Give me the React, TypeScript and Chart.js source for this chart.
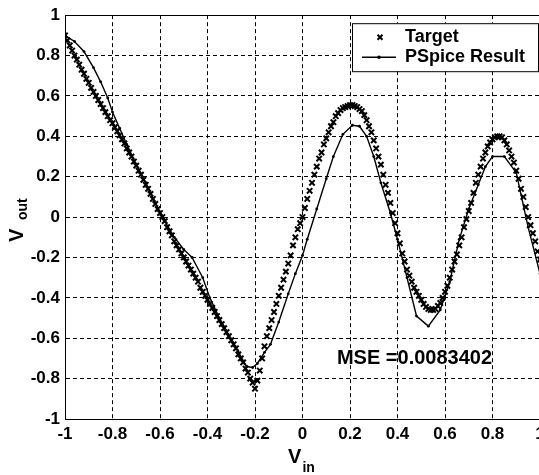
import React, { useEffect, useRef } from "react";
import { Chart, registerables } from "chart.js";

Chart.register(...registerables);

const FONT = '"Liberation Sans", Arial, Helvetica, sans-serif';

const targetX = [
  -1.0, -0.99, -0.98, -0.97, -0.96, -0.95, -0.94, -0.93, -0.92, -0.91,
  -0.9, -0.89, -0.88, -0.87, -0.86, -0.85, -0.84, -0.83, -0.82, -0.81,
  -0.8, -0.79, -0.78, -0.77, -0.76, -0.75, -0.74, -0.73, -0.72, -0.71,
  -0.7, -0.69, -0.68, -0.67, -0.66, -0.65, -0.64, -0.63, -0.62, -0.61,
  -0.6, -0.59, -0.58, -0.57, -0.56, -0.55, -0.54, -0.53, -0.52, -0.51,
  -0.5, -0.49, -0.48, -0.47, -0.46, -0.45, -0.44, -0.43, -0.42, -0.41,
  -0.4, -0.39, -0.38, -0.37, -0.36, -0.35, -0.34, -0.33, -0.32, -0.31,
  -0.3, -0.29, -0.28, -0.27, -0.26, -0.25, -0.24, -0.23, -0.22, -0.21,
  -0.2, -0.19, -0.18, -0.17, -0.16, -0.15, -0.14, -0.13, -0.12, -0.11,
  -0.1, -0.09, -0.08, -0.07, -0.06, -0.05, -0.04, -0.03, -0.02, -0.01,
  0.0, 0.01, 0.02, 0.03, 0.04, 0.05, 0.06, 0.07, 0.08, 0.09,
  0.1, 0.11, 0.12, 0.13, 0.14, 0.15, 0.16, 0.17, 0.18, 0.19,
  0.2, 0.21, 0.22, 0.23, 0.24, 0.25, 0.26, 0.27, 0.28, 0.29,
  0.3, 0.31, 0.32, 0.33, 0.34, 0.35, 0.36, 0.37, 0.38, 0.39,
  0.4, 0.41, 0.42, 0.43, 0.44, 0.45, 0.46, 0.47, 0.48, 0.49,
  0.5, 0.51, 0.52, 0.53, 0.54, 0.55, 0.56, 0.57, 0.58, 0.59,
  0.6, 0.61, 0.62, 0.63, 0.64, 0.65, 0.66, 0.67, 0.68, 0.69,
  0.7, 0.71, 0.72, 0.73, 0.74, 0.75, 0.76, 0.77, 0.78, 0.79,
  0.8, 0.81, 0.82, 0.83, 0.84, 0.85, 0.86, 0.87, 0.88, 0.89,
  0.9, 0.91, 0.92, 0.93, 0.94, 0.95, 0.96, 0.97, 0.98, 0.99,
  1.0,
];

const targetY = [
  0.9, 0.875, 0.85, 0.825, 0.8, 0.78, 0.755, 0.73, 0.71, 0.685,
  0.665, 0.64, 0.62, 0.6, 0.58, 0.56, 0.54, 0.52, 0.5, 0.48,
  0.465, 0.445, 0.425, 0.405, 0.385, 0.365, 0.34, 0.32, 0.3, 0.275,
  0.255, 0.23, 0.21, 0.185, 0.16, 0.14, 0.115, 0.09, 0.065, 0.04,
  0.02, 0.0, -0.02, -0.05, -0.07, -0.09, -0.12, -0.14, -0.16, -0.18,
  -0.2, -0.22, -0.24, -0.26, -0.28, -0.3, -0.32, -0.35, -0.37, -0.39,
  -0.41, -0.43, -0.45, -0.47, -0.49, -0.51, -0.53, -0.55, -0.57, -0.59,
  -0.61, -0.63, -0.65, -0.68, -0.7, -0.72, -0.75, -0.77, -0.8, -0.82,
  -0.85, -0.81, -0.76, -0.7, -0.64, -0.59, -0.55, -0.51, -0.47, -0.43,
  -0.39, -0.35, -0.31, -0.27, -0.23, -0.19, -0.14, -0.1, -0.06, -0.03,
  0.0, 0.045, 0.09, 0.13, 0.17, 0.21, 0.25, 0.29, 0.32, 0.36,
  0.39, 0.42, 0.45, 0.47, 0.5, 0.515, 0.53, 0.54, 0.545, 0.55,
  0.555, 0.555, 0.55, 0.545, 0.535, 0.525, 0.505, 0.48, 0.45, 0.42,
  0.38, 0.34, 0.3, 0.26, 0.21, 0.16, 0.12, 0.07, 0.02, -0.03,
  -0.08, -0.13, -0.18, -0.22, -0.26, -0.29, -0.32, -0.35, -0.37, -0.39,
  -0.41, -0.43, -0.445, -0.455, -0.46, -0.46, -0.455, -0.44, -0.425, -0.4,
  -0.37, -0.34, -0.3, -0.26, -0.22, -0.185, -0.14, -0.1, -0.05, -0.01,
  0.03, 0.07, 0.12, 0.17, 0.21, 0.25, 0.29, 0.32, 0.35, 0.37,
  0.385, 0.395, 0.4, 0.4, 0.395, 0.38, 0.36, 0.33, 0.3, 0.27,
  0.23, 0.19, 0.14, 0.1, 0.05, 0.0, -0.04, -0.08, -0.12, -0.17,
  -0.21,
];

const pspiceX = [
  -1.0, -0.96, -0.92, -0.88, -0.85, -0.82, -0.8, -0.77, -0.74, -0.7,
  -0.66, -0.62, -0.58, -0.54, -0.5, -0.465, -0.42, -0.39, -0.35, -0.31,
  -0.27, -0.235, -0.21, -0.19, -0.16, -0.135, -0.1, -0.06, -0.03, 0.0,
  0.02, 0.06, 0.1, 0.13, 0.17, 0.21, 0.24, 0.27, 0.3, 0.33,
  0.37, 0.4, 0.44, 0.48, 0.53, 0.58, 0.62, 0.66, 0.7, 0.74,
  0.77, 0.8, 0.85, 0.9, 0.95, 1.0,
];

const pspiceY = [
  0.9, 0.87, 0.82, 0.74, 0.67, 0.59, 0.52, 0.44, 0.36, 0.26,
  0.17, 0.07, -0.02, -0.1, -0.16, -0.2, -0.3, -0.4, -0.5, -0.59,
  -0.67, -0.74, -0.745, -0.725, -0.67, -0.63, -0.52, -0.38, -0.28, -0.19,
  -0.11, 0.04, 0.19, 0.3, 0.41, 0.455, 0.45, 0.4, 0.3, 0.17,
  0.02, -0.11, -0.3, -0.49, -0.54, -0.46, -0.32, -0.11, 0.04, 0.16,
  0.25, 0.3, 0.3, 0.22, -0.05, -0.28,
];

const seriesNames = ["Target", "PSpice Result"];
const mseText = "MSE =0.0083402";
const msePos = { x: 0.145, y: -0.7 };
const xTitle = ["V", "in"];
const yTitle = ["V", "out"];

function fmt(v: number) {
  const r = Math.round(v * 10) / 10;
  return (Object.is(r, -0) ? 0 : r).toString();
}

export default function App() {
  const ref = useRef<HTMLCanvasElement>(null);

  useEffect(() => {
    const canvas = ref.current;
    if (!canvas) return;

    const overlay = {
      id: "overlay",
      afterDraw(chart: any) {
        const c = chart.ctx as CanvasRenderingContext2D;
        const { left, top, right } = chart.chartArea;
        const xs = chart.scales.x;
        const ys = chart.scales.y;
        c.save();
        c.setLineDash([]);
        c.strokeStyle = "#000";
        c.fillStyle = "#000";
        c.lineWidth = 1;
        // top border
        c.beginPath();
        c.moveTo(left, Math.round(top) + 0.5);
        c.lineTo(right, Math.round(top) + 0.5);
        c.stroke();

        // legend
        const bx = right - 188;
        const by = top + 8;
        const bw = 186;
        const bh = 48;
        c.fillStyle = "#fff";
        c.fillRect(bx, by, bw, bh);
        c.strokeStyle = "#000";
        c.strokeRect(bx + 0.5, by + 0.5, bw, bh);
        // target marker
        const mx = bx + 28;
        const my = by + 14;
        c.lineWidth = 2;
        c.beginPath();
        c.moveTo(mx - 2.5, my - 2.5);
        c.lineTo(mx + 2.5, my + 2.5);
        c.moveTo(mx + 2.5, my - 2.5);
        c.lineTo(mx - 2.5, my + 2.5);
        c.stroke();
        // pspice sample
        const ly = by + 34;
        c.lineWidth = 1.6;
        c.beginPath();
        c.moveTo(bx + 10, ly);
        c.lineTo(bx + 44, ly);
        c.stroke();
        c.fillStyle = "#000";
        c.beginPath();
        c.arc(bx + 27, ly, 1.8, 0, Math.PI * 2);
        c.fill();
        c.font = `bold 18px ${FONT}`;
        c.textBaseline = "middle";
        c.textAlign = "left";
        c.fillText(seriesNames[0], bx + 53, my);
        c.fillText(seriesNames[1], bx + 53, ly);

        // MSE annotation
        c.font = `bold 20px ${FONT}`;
        c.fillText(mseText, xs.getPixelForValue(msePos.x), ys.getPixelForValue(msePos.y));

        // x title
        c.textBaseline = "alphabetic";
        c.font = `bold 20px ${FONT}`;
        const vW = c.measureText(xTitle[0]).width;
        c.font = `bold 14px ${FONT}`;
        const sW = c.measureText(xTitle[1]).width;
        const xc = xs.getPixelForValue(0) - 1;
        const x0 = xc - (vW + sW + 1) / 2;
        c.font = `bold 20px ${FONT}`;
        c.fillText(xTitle[0], x0, 463);
        c.font = `bold 14px ${FONT}`;
        c.fillText(xTitle[1], x0 + vW + 1, 472);

        // y title (rotated)
        c.save();
        const yc = (chart.chartArea.top + chart.chartArea.bottom) / 2 + 25;
        c.translate(23, yc);
        c.rotate(-Math.PI / 2);
        c.font = `bold 20px ${FONT}`;
        c.fillText(yTitle[0], 0, 0);
        c.font = `bold 14px ${FONT}`;
        c.fillText(yTitle[1], 22, 4);
        c.restore();

        c.restore();
      },
    };

    const tickFont = { family: FONT, size: 17, weight: "bold" as const };

    const chart = new Chart(canvas, {
      type: "scatter",
      data: {
        datasets: [
          {
            label: seriesNames[0],
            data: targetX.map((x, i) => ({ x, y: targetY[i] })),
            showLine: false,
            pointStyle: "crossRot",
            pointRadius: 3.8,
            pointBorderWidth: 2,
            pointBorderColor: "#000",
            pointBackgroundColor: "#000",
            borderColor: "#000",
          },
          {
            label: seriesNames[1],
            data: pspiceX.map((x, i) => ({ x, y: pspiceY[i] })),
            showLine: true,
            borderColor: "#000",
            borderWidth: 1.4,
            pointStyle: "circle",
            pointRadius: 1.4,
            pointBorderWidth: 0,
            pointBackgroundColor: "#000",
            tension: 0,
          },
        ],
      },
      options: {
        animation: false,
        responsive: false,
        maintainAspectRatio: false,
        layout: { padding: { top: 15, right: 20, left: 0, bottom: 0 } },
        plugins: {
          legend: { display: false },
          tooltip: { enabled: false },
        },
        scales: {
          x: {
            type: "linear",
            min: -1,
            max: 1,
            afterFit: (s: any) => {
              s.height = 56;
            },
            ticks: {
              stepSize: 0.2,
              color: "#000",
              font: tickFont,
              padding: 5,
              maxRotation: 0,
              autoSkip: false,
              callback: (v: any) => fmt(Number(v)),
            },
            grid: {
              color: "#000",
              lineWidth: 1,
              drawTicks: false,
            },
            border: { display: true, color: "#000", width: 1, dash: [4, 3] },
          },
          y: {
            type: "linear",
            min: -1,
            max: 1,
            afterFit: (s: any) => {
              s.width = 65;
            },
            ticks: {
              stepSize: 0.2,
              color: "#000",
              font: tickFont,
              padding: 5,
              autoSkip: false,
              callback: (v: any) => fmt(Number(v)),
            },
            grid: {
              color: "#000",
              lineWidth: 1,
              drawTicks: false,
            },
            border: { display: true, color: "#000", width: 1, dash: [4, 3] },
          },
        },
      },
      plugins: [overlay],
    });

    return () => chart.destroy();
  }, []);

  return (
    <div
      style={{
        position: "fixed",
        left: 0,
        top: 0,
        width: 539,
        height: 475,
        overflow: "hidden",
        background: "#fff",
      }}
    >
      <canvas ref={ref} width={560} height={475} style={{ display: "block" }} />
    </div>
  );
}
